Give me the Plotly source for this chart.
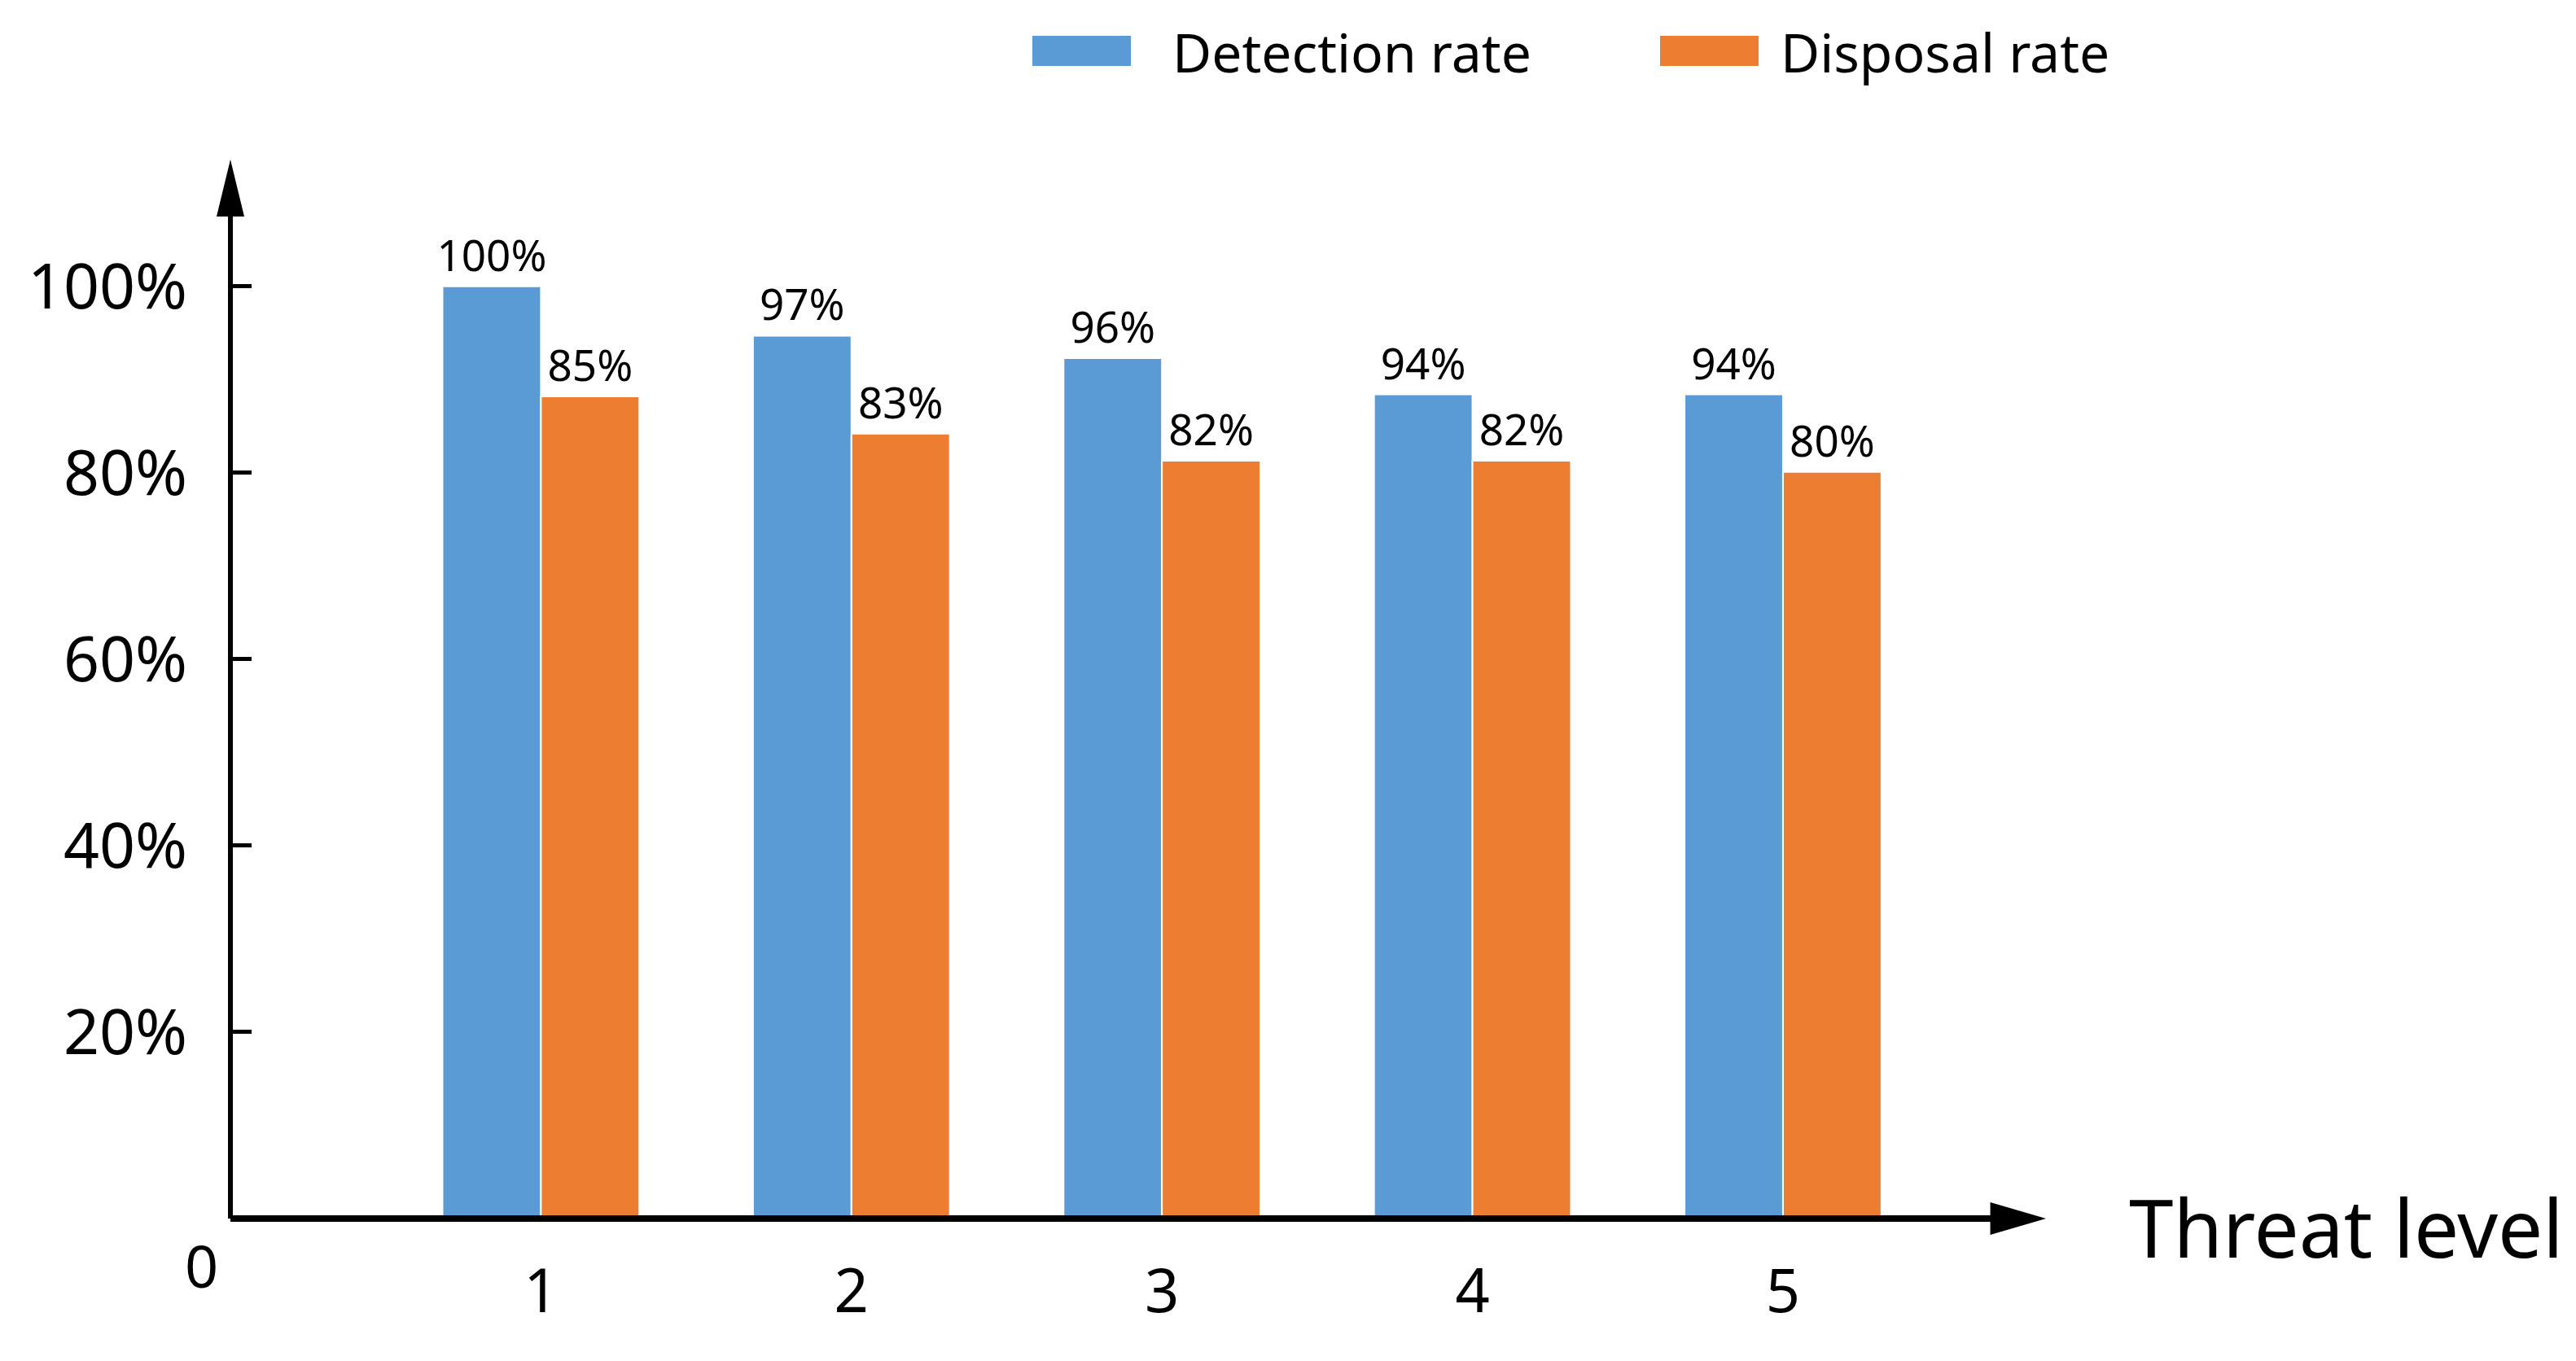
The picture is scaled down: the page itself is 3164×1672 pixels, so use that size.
import plotly.graph_objects as go

# ---- data ----
levels = [1, 2, 3, 4, 5]
level_labels = ["1", "2", "3", "4", "5"]
series_names = ["Detection rate", "Disposal rate"]
detection_heights = [100, 94.7, 92.3, 88.4, 88.4]   # bar heights as drawn (%)
disposal_heights = [88.2, 84.2, 81.3, 81.3, 80.1]
detection_labels = ["100%", "97%", "96%", "94%", "94%"]
disposal_labels = ["85%", "83%", "82%", "82%", "80%"]
y_ticks = [20, 40, 60, 80, 100]
y_tick_labels = ["20%", "40%", "60%", "80%", "100%"]
colors = ["#5B9BD5", "#ED7D31"]

FONT = "Noto Sans"
W, H = 3164, 1672
DX, DY = -7, -8
L, R, T, B = 282 + DX, 652 - DX, 196 + DY, 175 - DY
pw, ph = W - L - R, H - T - B


def px_x(X):
    return (X + DX - L) / pw


def px_y(Y):
    return (H - B - (Y + DY)) / ph


fig = go.Figure()
for name, vals, labs, col in [
    (series_names[0], detection_heights, detection_labels, colors[0]),
    (series_names[1], disposal_heights, disposal_labels, colors[1]),
]:
    fig.add_trace(go.Bar(
        x=levels, y=vals, name=name, text=labs,
        textposition="outside", constraintext="none", cliponaxis=False,
        textfont=dict(family=FONT, size=53, color="black"),
        marker=dict(color=col, line=dict(color="white", width=2)),
        showlegend=False,
    ))

shapes = []
annotations = []

# axes drawn as lines with arrow heads
x_base = px_x(2448)
y_base = px_y(262)
shapes.append(dict(type="line", xref="paper", yref="paper", x0=0, y0=0, x1=x_base, y1=0,
                   line=dict(color="black", width=8)))
shapes.append(dict(type="line", xref="paper", yref="paper", x0=0, y0=0, x1=0, y1=y_base,
                   line=dict(color="black", width=6)))
hy = 20 / ph
shapes.append(dict(type="path", xref="paper", yref="paper",
                   path=f"M {x_base - 0.002},{-hy} L 1,0 L {x_base - 0.002},{hy} Z",
                   fillcolor="black", line=dict(width=0)))
hx = 17 / pw
shapes.append(dict(type="path", xref="paper", yref="paper",
                   path=f"M {-hx},{y_base - 0.003} L 0,1 L {hx},{y_base - 0.003} Z",
                   fillcolor="black", line=dict(width=0)))

# manual legend with wide swatches
leg = [
    (series_names[0], colors[0], 1267, 1388, 1437),
    (series_names[1], colors[1], 2038, 2159, 2184),
]
for name, col, sx0, sx1, tx in leg:
    shapes.append(dict(type="rect", xref="paper", yref="paper",
                       x0=px_x(sx0), x1=px_x(sx1), y0=px_y(81), y1=px_y(44),
                       fillcolor=col, line=dict(width=0)))
    annotations.append(dict(xref="paper", yref="paper", x=px_x(tx), y=px_y(63),
                            text=name, showarrow=False, xanchor="left", yanchor="middle",
                            font=dict(family=FONT, size=66, color="black")))

annotations.append(dict(xref="paper", yref="paper", x=px_x(246), y=px_y(1554),
                        text="0", showarrow=False, xanchor="center", yanchor="middle",
                        font=dict(family=FONT, size=72, color="black")))
annotations.append(dict(xref="paper", yref="paper", x=px_x(2612), y=px_y(1507),
                        text="Threat level", showarrow=False, xanchor="left", yanchor="middle",
                        font=dict(family=FONT, size=98, color="black")))

fig.update_layout(
    width=W, height=H,
    margin=dict(l=L, r=R, t=T, b=B),
    paper_bgcolor="white", plot_bgcolor="white",
    barmode="group", bargap=0.366, bargroupgap=0,
    shapes=shapes, annotations=annotations,
    font=dict(family=FONT, color="black"),
)
fig.update_xaxes(
    range=[0, 5.847], tickmode="array", tickvals=levels, ticktext=level_labels,
    showgrid=False, zeroline=False, showline=False, ticks="",
    tickfont=dict(family=FONT, size=74, color="black"), ticklabelstandoff=40,
)
fig.update_yaxes(
    range=[0, 113.6], tickmode="array", tickvals=y_ticks, ticktext=y_tick_labels,
    showgrid=False, zeroline=False, showline=False,
    ticks="inside", ticklen=26, tickwidth=5, tickcolor="black",
    tickfont=dict(family=FONT, size=77, color="black"), ticklabelstandoff=52,
)

fig.write_html("out.html")
